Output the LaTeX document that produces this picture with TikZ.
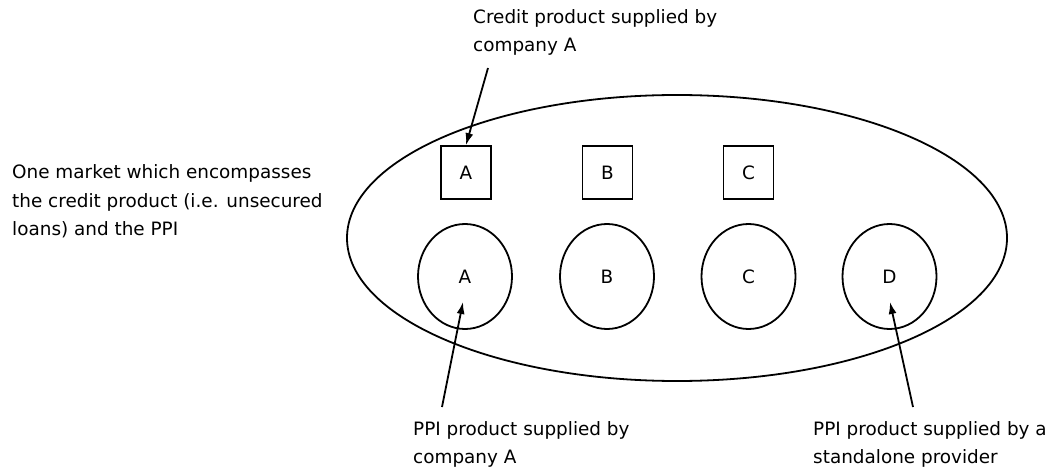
\documentclass[tikz,border=0pt]{standalone}
\usepackage{fontspec}
\setmainfont{DejaVu Sans}
\usetikzlibrary{arrows.meta,positioning,shapes.geometric}

\tikzset{
  txt/.style={inner sep=0pt,align=left,anchor=base west,font=\fontsize{18.4}{28}\selectfont},
  credit/.style={draw,line width=1.8pt,minimum width=50pt,minimum height=53pt,inner sep=0pt,font=\fontsize{18.4}{22}\selectfont},
  ppi/.style={draw,ellipse,line width=1.8pt,minimum width=94pt,minimum height=105pt,inner sep=0pt,font=\fontsize{18.4}{22}\selectfont},
  pointer/.style={-{Latex[length=12pt,width=8pt]},line width=1.8pt}
}

\begin{document}
\begin{tikzpicture}[x=1pt,y=-1pt]
    \useasboundingbox (0,0) rectangle (1057,473);
    % the market
    \node[draw,ellipse,line width=1.8pt,minimum width=660pt,minimum height=286pt,inner sep=0pt] (market) at (677,238) {};
    % credit products
    \node[credit] (crA) at (466,172.5) {A};
    \node[credit] (crB) at (607.5,172.5) {B};
    \node[credit] (crC) at (748.5,172.5) {C};
    % ppi products
    \node[ppi] (ppA) at (465,276.5) {A};
    \node[ppi] (ppB) at (607,276.5) {B};
    \node[ppi] (ppC) at (748.5,276.5) {C};
    \node[ppi] (ppD) at (889.5,276.5) {D};
    % labels (anchored on their last line)
    \node[txt] (lmarket) at (12,235) {One market which encompasses\\the credit product (i.e. unsecured\\loans) and the PPI};
    \node[txt] (lcredit) at (473,52) {Credit product supplied by\\company A};
    \node[txt] (lppiA) at (413,463) {PPI product supplied by\\company A};
    \node[txt] (lppiD) at (813,463) {PPI product supplied by a\\standalone provider};
    % arrows
    \coordinate (tcredit) at (488,68);
    \coordinate (tppiA) at (442,407);
    \coordinate (tppiD) at (913,407);
    \coordinate (hppiA) at (463,302);
    \coordinate (hppiD) at (890,302);
    \draw[pointer] (tcredit) -- (crA.north);
    \draw[pointer] (tppiA) -- (hppiA);
    \draw[pointer] (tppiD) -- (hppiD);
\end{tikzpicture}
\end{document}
